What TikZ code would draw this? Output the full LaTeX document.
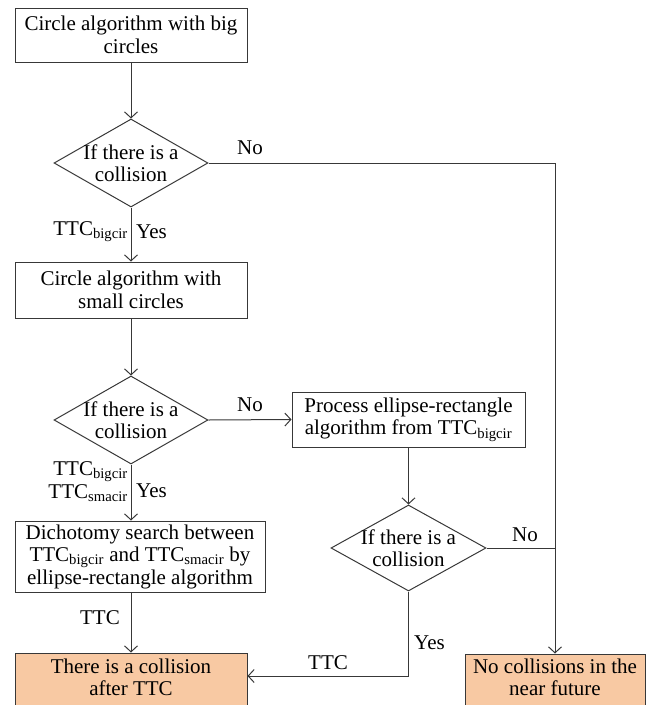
\documentclass[tikz,border=0pt]{standalone}
\usepackage{fontspec}
\setmainfont{Liberation Serif}
\usetikzlibrary{arrows.meta,shapes.geometric}
\newcommand{\mysub}[1]{\textsubscript{#1}}
\definecolor{lineclr}{HTML}{383838}
\definecolor{orangefill}{HTML}{F8C9A3}
\tikzset{
  txt/.style={font={\fontsize{21}{22.5}\selectfont}, text=black},
  proc/.style={txt, draw=lineclr, line width=1pt, rectangle, align=center, inner sep=0pt},
  term/.style={proc, fill=orangefill},
  decis/.style={draw=lineclr, line width=1pt, diamond, inner sep=0pt, minimum width=154pt, minimum height=88pt,
    label={[txt, align=center]center:If there is a\\collision}},
  lbl/.style={txt, inner sep=0pt},
  conn/.style={draw=lineclr, line width=1pt},
  arr/.style={conn, -{Straight Barb[length=6pt,width=13pt,line width=1pt]}}
}
\begin{document}
\begin{tikzpicture}[x=1pt,y=1pt]
\useasboundingbox (0,0) rectangle (651,-705);
\node[proc, minimum width=232pt, minimum height=54pt] (b1) at (131,-35) {Circle algorithm with big\\circles};
\node[decis] (d1) at (131,-163) {};
\node[proc, minimum width=232pt, minimum height=56pt] (b2) at (131,-290) {Circle algorithm with\\small circles};
\node[decis] (d2) at (131,-420) {};
\node[proc, minimum width=233pt, minimum height=55pt] (pe) at (408.5,-419.5) {Process ellipse-rectangle\\algorithm from TTC\mysub{bigcir}};
\node[decis, minimum width=155pt, minimum height=86pt] (d3) at (408.5,-548) {};
\node[proc, minimum width=250pt, minimum height=71pt] (b3) at (140,-556.5) {Dichotomy search between\\TTC\mysub{bigcir} and TTC\mysub{smacir} by\\ellipse-rectangle algorithm};
\node[term, minimum width=232pt, minimum height=58pt,
  label={[txt, align=center, yshift=4.5pt]center:There is a collision\\after TTC}] (b4) at (131,-682) {};
\node[term, minimum width=180pt, minimum height=58pt,
  label={[txt, align=center, yshift=5.5pt]center:No collisions in the\\near future}] (b5) at (555,-683) {};

\coordinate (jn) at (555,-163);
\coordinate (yj) at (408.5,-676);

\draw[arr] (b1.south) -- (d1.north);
\draw[arr] (d1.south) -- (b2.north);
\draw[arr] (b2.south) -- (d2.north);
\draw[arr] (d2.east) -- (pe.west);
\draw[arr] (d2.south) -- (d2.south |- b3.north);
\draw[arr] (b3.south -| d2.south) -- (b4.north);
\draw[arr] (pe.south) -- (d3.north);
\draw[arr] (d1.east) -- (jn) -- (jn |- b5.north);
\draw[conn] (d3.east) -- (d3.east -| jn);
\draw[arr] (d3.south) -- (yj) -- (yj -| b4.east);

\node[lbl] (no1) at (250,-148) {No};
\node[lbl, anchor=east] (t1) at (128,-232) {TTC\mysub{bigcir}};
\node[lbl, anchor=west] (y1) at (136,-232) {Yes};
\node[lbl] (no2) at (250,-405) {No};
\node[lbl, anchor=east] (t2) at (128,-472) {TTC\mysub{bigcir}};
\node[lbl, anchor=east] (t3) at (128,-493) {TTC\mysub{smacir}};
\node[lbl, anchor=west] (y2) at (136,-491) {Yes};
\node[lbl, anchor=east] (t4) at (120,-618) {TTC};
\node[lbl] (no3) at (525,-535) {No};
\node[lbl, anchor=west] (y3) at (414,-643) {Yes};
\node[lbl] (t5) at (328,-663) {TTC};
\end{tikzpicture}
\end{document}
